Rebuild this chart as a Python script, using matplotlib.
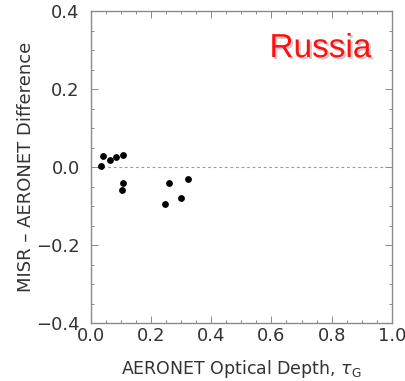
import matplotlib
matplotlib.use("Agg")
import matplotlib.pyplot as plt
import matplotlib.patheffects as pe
from matplotlib.ticker import MultipleLocator

# Data
aeronet_tau = [0.035, 0.041, 0.063, 0.083, 0.105, 0.105, 0.103, 0.247, 0.258, 0.300, 0.322]
misr_minus_aeronet = [0.003, 0.028, 0.018, 0.026, 0.032, -0.042, -0.060, -0.094, -0.040, -0.080, -0.030]
x_ticks = [0.0, 0.2, 0.4, 0.6, 0.8, 1.0]
y_ticks = [-0.4, -0.2, 0.0, 0.2, 0.4]
region_name = "Russia"

text_color = "#333333"
frame_color = "#8a8a8a"

fig = plt.figure(figsize=(4.06, 3.81), dpi=100)
ax = fig.add_axes([0.224, 0.152, 0.741, 0.819])

ax.axhline(0.0, color="#9a9a9a", lw=0.8, ls=(0, (2.5, 2.5)), zorder=1)
ax.scatter(aeronet_tau, misr_minus_aeronet, s=24, color="black", zorder=3, linewidths=0)

ax.set_xlim(0.0, 1.0)
ax.set_ylim(-0.4, 0.4)
ax.set_xticks(x_ticks)
ax.set_yticks(y_ticks)
ax.set_xticklabels([f"{v:.1f}" for v in x_ticks])
ax.set_yticklabels([f"{v:.1f}".replace("-", "\u2212") for v in y_ticks])
ax.xaxis.set_minor_locator(MultipleLocator(0.05))
ax.yaxis.set_minor_locator(MultipleLocator(0.05))

ax.tick_params(which="both", direction="in", top=True, right=True,
               color=frame_color, width=0.7)
ax.tick_params(which="major", length=5)
ax.tick_params(which="minor", length=2.5)
ax.tick_params(axis="x", which="major", labelsize=13, labelcolor=text_color, pad=3)
ax.tick_params(axis="y", which="major", labelsize=13, labelcolor=text_color, pad=8)

for sp in ax.spines.values():
    sp.set_color(frame_color)
    sp.set_linewidth(1.0)

ax.set_xlabel(r"AERONET Optical Depth, $\tau_{\rm G}$", fontsize=12.5, color=text_color, labelpad=9)
ax.set_ylabel("MISR \u2013 AERONET Difference", fontsize=13, color=text_color, labelpad=1)

ax.text(0.763, 0.282, region_name, color="#ff1010", fontsize=24, family="Liberation Sans",
        ha="center", va="baseline", zorder=4,
        path_effects=[pe.SimplePatchShadow(offset=(1.5, -1.5), shadow_rgbFace="#999999", alpha=0.5),
                      pe.Normal()])

fig.savefig("out.png", dpi=100)
